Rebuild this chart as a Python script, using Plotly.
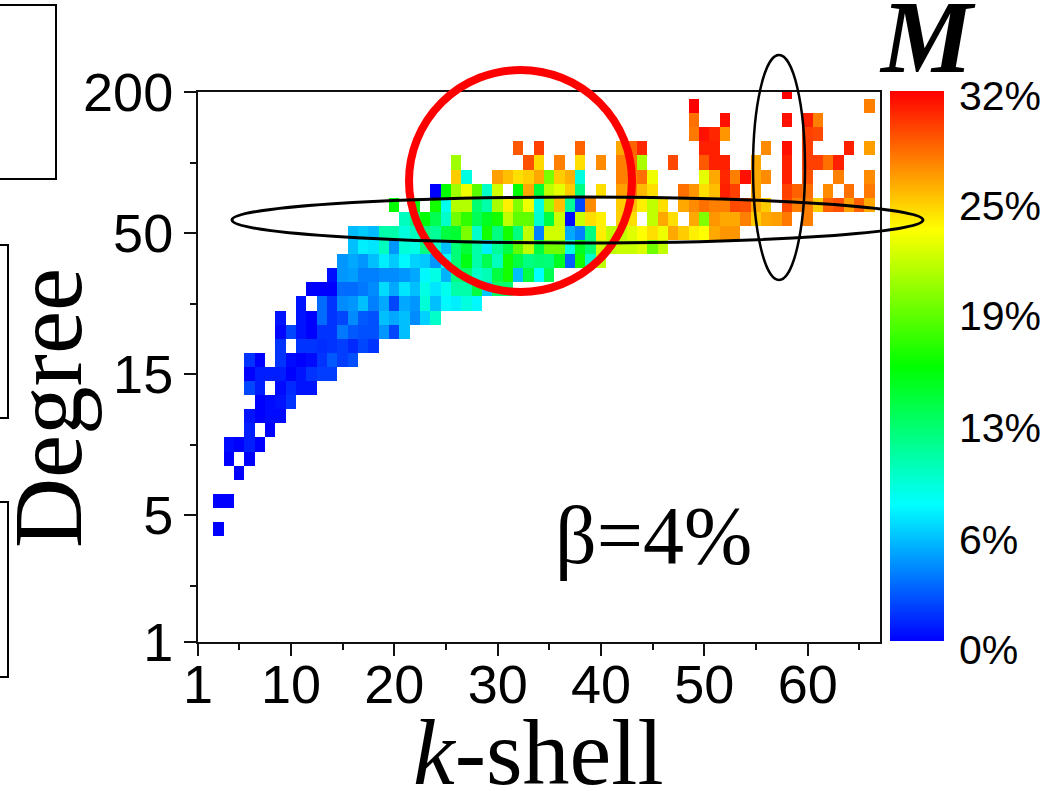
import plotly.graph_objects as go

# M (%) per k-shell value, one dict per degree bin row (row index counted from the bottom of the axis)
row_39 = {58: 32}
row_38 = {49: 32, 66: 28}
row_37 = {49: 28.5, 52: 31.5, 58: 31.5, 60: 31, 61: 28}
row_36 = {49: 28.2, 50: 31.5, 51: 30.8, 52: 27.3, 60: 30, 61: 29.7}
row_35 = {32: 29.2, 34: 30, 38: 28.9, 42: 26.7, 43: 28.9, 44: 30.8, 50: 31, 51: 31, 56: 27.6, 58: 31.5, 60: 30, 64: 31, 66: 27}
row_34 = {26: 21, 33: 29.5, 34: 25.2, 36: 28, 38: 25, 40: 27.6, 42: 28, 43: 28.5, 44: 21.3, 47: 29.7, 50: 29.2, 51: 31, 52: 31, 55: 26.7, 58: 31, 60: 30, 61: 30, 62: 28.5, 63: 31}
row_33 = {26: 25.6, 27: 8.9, 30: 27, 31: 26, 32: 25, 33: 25.5, 34: 26.7, 35: 19.8, 36: 25.6, 37: 26.5, 38: 9, 42: 28, 43: 28, 44: 28.5, 45: 23.5, 50: 23.2, 51: 26.7, 52: 30.8, 53: 28, 54: 31.5, 55: 26.7, 56: 27.6, 58: 31, 60: 29.5, 63: 28, 66: 27.6}
row_32 = {24: 0, 25: 16, 26: 21, 27: 23.5, 28: 18.8, 29: 9.7, 30: 22.6, 32: 16, 33: 26.7, 34: 14.4, 35: 22, 36: 23.2, 37: 25.6, 38: 12, 40: 25, 42: 27, 43: 28, 44: 26.2, 45: 25, 48: 28.5, 49: 27.3, 50: 25, 51: 26, 52: 31, 53: 30, 55: 26.7, 58: 30, 59: 29, 60: 28.5, 62: 27.6, 64: 28.5, 66: 28.2}
row_31 = {20: 16, 22: 16, 24: 16.6, 25: 8.5, 26: 21.6, 27: 21.6, 28: 12.5, 29: 10.7, 30: 21.3, 31: 24.5, 32: 20, 33: 23.5, 34: 9, 35: 20.7, 36: 26, 37: 11.3, 38: 2.2, 39: 27.6, 42: 25.6, 43: 26, 44: 24.5, 45: 22, 46: 25, 48: 26.7, 49: 27.6, 50: 28.5, 51: 28, 52: 28, 53: 29.7, 54: 29.5, 55: 26.7, 56: 25.6, 58: 29.7, 59: 28, 60: 28, 61: 25.6, 62: 29, 63: 29.5, 64: 27, 65: 29, 66: 26.7}
row_30 = {21: 10, 22: 12, 23: 16, 24: 13.5, 25: 9.7, 26: 19.5, 27: 17.5, 28: 13.3, 29: 15, 30: 16.6, 31: 22, 32: 19, 33: 19, 34: 9.5, 35: 14, 36: 22.3, 37: 0.3, 38: 22.3, 39: 25, 40: 24.5, 42: 25.5, 43: 25, 45: 22, 46: 26.7, 47: 25, 49: 26.7, 50: 20, 51: 27.3, 52: 26.7, 53: 26.7, 54: 28, 55: 25.6, 56: 26.7, 57: 27, 58: 28.2, 60: 28}
row_29 = {16: 5.9, 17: 6.3, 18: 5.9, 19: 10.7, 20: 10.7, 21: 9, 22: 10, 23: 12, 24: 11.3, 25: 14, 26: 14.5, 27: 19.8, 28: 9.7, 29: 16.6, 30: 12, 31: 16.6, 32: 12, 33: 22, 34: 4, 35: 22.6, 36: 22.6, 37: 5.3, 38: 4, 39: 12, 40: 24.5, 41: 22, 42: 22, 43: 23, 44: 24, 45: 25, 46: 23.5, 47: 26.7, 48: 25.6, 49: 24.5, 50: 24, 51: 26.7, 52: 27.3, 53: 27.3}
row_28 = {16: 6, 17: 7.5, 18: 7.2, 19: 10, 20: 4.7, 21: 9.3, 22: 8.8, 23: 12, 24: 9.7, 25: 6, 26: 12.2, 27: 14.2, 28: 10.7, 29: 7.5, 30: 11.3, 31: 14, 32: 19, 33: 22, 34: 14, 35: 19.5, 36: 19.5, 37: 9, 38: 15, 39: 12.5, 40: 22.3, 41: 22, 42: 22.3, 43: 22.3, 44: 22.9, 45: 19.5, 46: 22}
row_27 = {15: 4.7, 16: 5.3, 17: 4.7, 18: 6, 19: 7.5, 20: 6.3, 21: 7.8, 22: 6.6, 23: 6.3, 24: 4.7, 25: 8.2, 26: 12.2, 27: 15.4, 28: 10.7, 29: 13.5, 30: 10, 31: 16.6, 32: 14, 33: 12, 34: 12.5, 35: 12.2, 36: 15, 37: 3, 38: 16.6, 39: 9.7, 40: 22}
row_26 = {14: 0.5, 15: 4.7, 16: 5, 17: 4, 18: 4, 19: 4.4, 20: 4.4, 21: 4.7, 22: 5.3, 23: 7.8, 24: 8.8, 25: 5.6, 26: 12, 27: 12.8, 28: 9.7, 29: 10.3, 30: 14, 31: 16.6, 32: 6, 33: 14, 34: 8, 35: 13.5}
row_25 = {12: 0, 13: 0, 14: 0, 15: 3.4, 16: 3.4, 17: 3.8, 18: 4.4, 19: 6.9, 20: 5.3, 21: 7.2, 22: 6, 23: 8.8, 24: 7.2, 25: 8.5, 26: 10.7, 27: 10.7, 28: 14, 29: 6.3, 30: 12.8, 31: 12.5}
row_24 = {11: 0.6, 13: 3.4, 14: 1.6, 15: 4.4, 16: 4.7, 17: 6, 18: 4, 19: 5.3, 20: 2.2, 21: 5.3, 22: 4.7, 23: 9.3, 24: 6, 25: 7.8, 26: 7.5, 27: 9, 28: 7.8}
row_23 = {9: 0.6, 11: 0.6, 12: 0, 13: 3.4, 14: 1.6, 15: 2.2, 16: 4.4, 17: 2.8, 18: 2.5, 19: 6, 20: 5.3, 21: 6, 22: 4.4, 23: 6.6, 24: 9.7}
row_22 = {9: 0.2, 10: 2.2, 11: 0.6, 12: 0, 13: 1.6, 14: 1.6, 15: 3.8, 16: 2.8, 17: 2.5, 18: 2.5, 19: 4.7, 20: 2.2, 21: 6}
row_21 = {9: 1.6, 11: 1.6, 12: 1.6, 13: 1.4, 14: 1.6, 15: 1.9, 16: 1.3, 17: 2.2, 18: 1.6}
row_20 = {6: 1.6, 7: 0, 9: 1.6, 10: 0.3, 11: 0, 12: 0.3, 13: 1.6, 14: 2.8, 15: 1.9, 16: 2.5}
row_19 = {6: 0, 7: 0.9, 8: 0.9, 9: 0.9, 10: 0, 11: 0.6, 12: 1.6, 13: 1.9, 14: 1.9}
row_18 = {6: 2.2, 7: 0.9, 9: 0.3, 10: 1.3, 11: 0.6, 12: 0.6}
row_17 = {7: 0, 8: 0.3, 9: 0.6, 10: 1.6}
row_16 = {6: 0.6, 7: 0, 8: 0.3, 9: 0.3}
row_15 = {6: 0.9, 8: 0}
row_14 = {4: 0.3, 5: 0, 6: 0.9, 7: 0}
row_13 = {4: 0, 6: 0}
row_12 = {5: 0}
row_10 = {3: 0, 4: 0}
row_8 = {3: 0}

rows = {39: row_39, 38: row_38, 37: row_37, 36: row_36, 35: row_35, 34: row_34, 33: row_33,
        32: row_32, 31: row_31, 30: row_30, 29: row_29, 28: row_28, 27: row_27, 26: row_26,
        25: row_25, 24: row_24, 23: row_23, 22: row_22, 21: row_21, 20: row_20, 19: row_19,
        18: row_18, 17: row_17, 16: row_16, 15: row_15, 14: row_14, 13: row_13, 12: row_12,
        10: row_10, 8: row_8}

k_values = list(range(1, 68))
bin_values = list(range(0, 40))
y_tickpos = [0, 9, 19, 29, 39]
y_ticktext = ["1", "5", "15", "50", "200"]
y_minor = [4, 14, 24, 34]
x_tickpos = [1, 10, 20, 30, 40, 50, 60]
x_minor = [5, 15, 25, 35, 45, 55, 65]
cbar_levels = [0, 8, 16, 24, 32]
cbar_labels = ["32%", "25%", "19%", "13%", "6%", "0%"]
cbar_label_y = [96, 206, 316, 428, 540, 650]

z = [[rows.get(b, {}).get(k) for k in k_values] for b in bin_values]
scale = [[0, "#0000ff"], [0.25, "#00ffff"], [0.5, "#00ff00"], [0.75, "#ffff00"], [1, "#ff0000"]]

# pixel frame of the page: paper spans L..PR horizontally and T..B vertically
L, R, PR, T, PT, B = 198, 880, 944, 92, 91, 642
W, H = 1059, 791
def px(x): return (x - L) / (PR - L)
def py(y): return (B - y) / (B - PT)

fig = go.Figure()
fig.add_trace(go.Heatmap(x=k_values, y=bin_values, z=z, zmin=0, zmax=32, hoverongaps=False,
                         colorscale=scale, showscale=False))
# colour key: a smoothed two-column heatmap so that the annotations can pass over it
fig.add_trace(go.Heatmap(x=[0, 1], y=cbar_levels, z=[[v, v] for v in cbar_levels], zmin=0, zmax=32,
                         colorscale=scale, showscale=False, zsmooth="best",
                         xaxis="x2", yaxis="y2", hoverinfo="skip"))

axis_font = dict(family="Liberation Sans", size=54, color="black")
fig.update_layout(
    xaxis=dict(domain=[0, px(R)], range=[1, 67], tickmode="array", tickvals=x_tickpos,
               ticks="outside", ticklen=12, tickwidth=2, tickcolor="#111",
               minor=dict(tickmode="array", tickvals=x_minor, ticks="outside", ticklen=6, tickwidth=2, tickcolor="#111"),
               showline=True, linewidth=2, linecolor="#111", mirror=True,
               showgrid=False, zeroline=False, tickfont=axis_font, ticklabelstandoff=-18),
    yaxis=dict(domain=[0, py(T)], range=[0, 39], tickmode="array", tickvals=y_tickpos, ticktext=y_ticktext,
               ticks="outside", ticklen=12, tickwidth=2, tickcolor="#111",
               minor=dict(tickmode="array", tickvals=y_minor, ticks="outside", ticklen=6, tickwidth=2, tickcolor="#111"),
               showline=True, linewidth=2, linecolor="#111", mirror=True,
               showgrid=False, zeroline=False, tickfont=axis_font),
    xaxis2=dict(domain=[px(890), 1], range=[0, 1], visible=False, anchor="y2"),
    yaxis2=dict(domain=[py(641), 1], range=[0, 32], visible=False, anchor="x2"),
)

shapes = []
def ell(x0, x1, y0, y1, color, width):
    shapes.append(dict(type="circle", xref="paper", yref="paper", x0=px(x0), x1=px(x1), y0=py(y0), y1=py(y1),
                       line=dict(color=color, width=width), layer="above"))
def box(x0, x1, y0, y1):
    shapes.append(dict(type="rect", xref="paper", yref="paper", x0=px(x0), x1=px(x1), y0=py(y0), y1=py(y1),
                       line=dict(color="black", width=2), layer="above"))
ell(409, 632, 70, 292, "#ff0000", 8)
ell(232, 923, 197, 243, "black", 3)
ell(753, 805, 55, 280, "black", 2.5)
box(-20, 56, 5, 179)
box(-20, 8, 245, 418)
box(-20, 8, 502, 677)

ann = []
def text(x, y, s, size, family="Liberation Serif", angle=0):
    ann.append(dict(xref="paper", yref="paper", x=px(x), y=py(y), text=s, showarrow=False,
                    xanchor="center", yanchor="middle", textangle=angle,
                    font=dict(family=family, size=size, color="black")))
for lab, yp in zip(cbar_labels, cbar_label_y):
    ann.append(dict(xref="paper", yref="paper", x=px(957), y=py(yp), text=lab, showarrow=False,
                    xanchor="left", yanchor="middle",
                    font=dict(family="Liberation Sans", size=41, color="black")))
text(538, 752, "<i>k</i>-shell", 94)
text(48, 408, "Degree", 97, angle=-90)
text(653, 535, "β=4%", 82)
text(927, 37, "<b><i>M</i></b>", 103)

fig.update_layout(width=W, height=H, margin=dict(l=L, r=W - PR, t=PT, b=H - B),
                  plot_bgcolor="white", paper_bgcolor="white",
                  shapes=shapes, annotations=ann, showlegend=False)
fig.write_html("out.html", config=dict(displayModeBar=False),
               post_script="document.body.style.margin='0';document.body.style.overflow='hidden';")
